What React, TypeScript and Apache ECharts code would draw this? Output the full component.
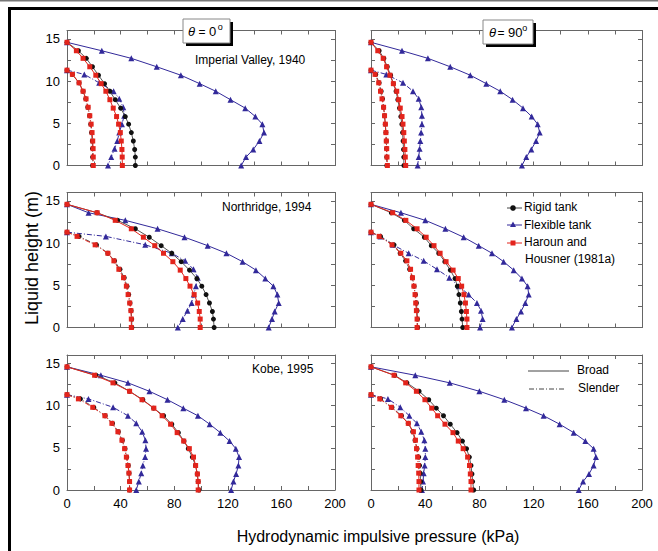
import React, { useEffect, useRef } from "react";
import * as echarts from "echarts";

// Heights (m) at which the curves are sampled
const H_BROAD = [14.6, 13.6, 12.7, 11.7, 10.7, 9.7, 8.8, 7.8, 6.8, 5.8, 4.9, 3.9, 2.9, 1.9, 1.0, 0];
const H_SLENDER = [11.3, 10.8, 9.8, 8.8, 7.9, 6.9, 5.9, 4.9, 3.9, 2.9, 2.0, 1.0, 0];

// Imperial Valley, 1940 — theta = 0
const IV0_FLEX_B = [0, 26, 48, 67, 85, 99, 111, 122, 133, 140.6, 145.8, 147, 143.6, 139, 133.6, 130];
const IV0_RIGID_B = [0, 8.5, 14.4, 19, 23.5, 28, 32, 36, 40, 43.5, 46, 48, 49.5, 50.5, 51, 51];
const IV0_HH_B = [0, 7, 12, 17, 21.5, 25.5, 29, 32, 34.5, 37, 38.5, 39.8, 40.5, 41, 41.2, 41.3];
const IV0_FLEX_S = [0, 12.9, 24, 34.8, 39, 42, 42.7, 41, 39, 37.5, 35.5, 33, 30.6];
const IV0_RIGID_S = [0, 4, 9, 12, 14, 15.5, 16.9, 17.7, 18.3, 18.9, 19, 19.1, 19.1];
const IV0_HH_S = [0, 4, 9, 12, 14.2, 15.8, 17, 18, 18.7, 19.2, 19.5, 19.6, 19.6];

// Imperial Valley, 1940 — theta = 90
const IV90_FLEX_B = [0, 22.9, 42, 58.5, 73.3, 85.1, 95.4, 104.5, 112.2, 118.6, 123, 124.5, 121.8, 118.3, 114.6, 111.4];
const IV90_RIGID_B = [0, 6, 9.5, 12, 14.5, 16.5, 18.5, 19.8, 21, 22, 22.8, 23.3, 23.7, 24, 24.2, 24.3];
const IV90_HH_B = [0, 5, 9, 11.5, 14, 16.5, 19, 20.4, 21.6, 22.9, 23.6, 24.2, 24.6, 25, 25.3, 25.6];
const IV90_FLEX_S = [0, 11.3, 23.6, 31, 35.2, 37.1, 37.6, 37.6, 37, 36.4, 35.9, 35.2, 34.4];
const IV90_RIGID_S = [0, 3.5, 6, 7.5, 8.5, 9.3, 10, 10.5, 11, 11.3, 11.5, 11.6, 11.7];
const IV90_HH_S = [0, 3, 5.7, 7, 8.1, 9.3, 10, 10.6, 11, 11.3, 11.6, 11.8, 12.1];

// Northridge, 1994 — theta = 0
const NR0_FLEX_B = [0, 16.1, 43.5, 67.6, 87.7, 105, 119, 131, 141, 148, 154, 157, 158, 155, 153, 150.5];
const NR0_RIGID_B = [0, 22.4, 37.8, 51, 61.4, 70.3, 78.2, 85.2, 91.4, 96.9, 100.6, 103.8, 106.3, 108.5, 109.3, 109.8];
const NR0_HH_B = [0, 22.5, 36, 48, 57, 65.5, 72, 79, 84.5, 88.7, 91.8, 94.9, 97.5, 98.7, 99.4, 99.4];
const NR0_FLEX_S = [0, 29, 58.4, 78.2, 88.2, 94.4, 97.6, 96.2, 94.6, 93, 89.9, 86.4, 82.7];
const NR0_RIGID_S = [0, 9, 22, 30.5, 35.5, 39.5, 42.7, 44.8, 46, 47, 47.8, 48.3, 48.4];
const NR0_HH_S = [0, 7.5, 21, 30.5, 35, 38.7, 42.2, 44.3, 45.6, 46.8, 47.7, 48, 48];

// Northridge, 1994 — theta = 90
const NR90_FLEX_B = [0, 22.1, 40.1, 54.9, 68.4, 79.5, 89.3, 97.9, 105.3, 111.4, 115.6, 116.4, 113.9, 110.7, 107.3, 104];
const NR90_RIGID_B = [0, 15, 24.6, 31.5, 39.4, 44.5, 50, 54.5, 58.5, 62, 63.7, 64.9, 65.9, 66.7, 67.2, 67.7];
const NR90_HH_B = [0, 16, 25.7, 34, 40.7, 46.5, 51, 55.4, 60.6, 64.4, 66.9, 68.6, 69.7, 70.4, 70.8, 70.8];
const NR90_FLEX_S = [0, 7, 16.2, 27.8, 38.9, 48.7, 57.8, 64.7, 72.1, 78.2, 81.2, 82.4, 80.5];
const NR90_RIGID_S = [0, 7, 17, 21.5, 25.5, 28.5, 30.5, 31.8, 32.8, 33.5, 34, 34.3, 34.4];
const NR90_HH_S = [0, 6, 15.5, 22, 26.5, 29.2, 30.6, 31.7, 32.5, 33, 33.5, 34, 34];

// Kobe, 1995 — theta = 0
const KB0_FLEX_B = [0, 25.3, 45.5, 61.5, 75, 86.8, 97.7, 106.5, 114.4, 121.3, 126, 128.4, 127.9, 126.2, 124.2, 122.5];
const KB0_RIGID_B = [0, 21.6, 35.7, 46.7, 56.6, 64.7, 72.1, 78.2, 83.1, 87.3, 90.5, 93.5, 95.9, 97.2, 97.9, 98.4];
const KB0_HH_B = [0, 20.6, 34.3, 46.7, 56, 64.8, 71, 77.3, 82.2, 87.1, 91.3, 94.4, 96, 97.3, 97.9, 97.9];
const KB0_FLEX_S = [0, 16, 34.4, 45.5, 51.7, 56.1, 58.5, 59, 58.3, 56.6, 55.4, 53.6, 51.7];
const KB0_RIGID_S = [0, 10, 20, 28.5, 34, 38.3, 41.3, 43.3, 44.6, 45.7, 46.3, 46.7, 46.7];
const KB0_HH_S = [0, 8.5, 19.2, 28.3, 33.5, 38, 41, 43, 44.3, 45.5, 46.2, 46.7, 46.7];

// Kobe, 1995 — theta = 90
const KB90_FLEX_B = [0, 32.7, 58.1, 80, 98.4, 114.4, 127.4, 139.2, 149.6, 158.2, 164.3, 166, 164.3, 160.9, 156.5, 153.3];
const KB90_RIGID_B = [0, 17.5, 26.5, 35.5, 42.6, 48.2, 53.5, 58.5, 63.5, 67.5, 70.5, 72.6, 73.8, 74.5, 75, 75.8];
const KB90_HH_B = [0, 17, 25.6, 33.5, 39.8, 44.8, 49.2, 54.6, 60.5, 64.4, 68, 71.3, 72.7, 73.3, 73.8, 73.8];
const KB90_FLEX_S = [0, 12.5, 21.6, 28.3, 33.9, 37.1, 39.4, 40.1, 40.1, 39.6, 38.9, 38.4, 37.6];
const KB90_RIGID_S = [0, 7, 15.5, 22.5, 27.5, 30.8, 32.5, 34, 35.2, 35.8, 36.3, 36.6, 36.9];
const KB90_HH_S = [0, 6.5, 15, 22, 27.5, 31.3, 32.8, 33.6, 34.4, 34.8, 35.2, 35.4, 35.4];

const X_TICK_LABELS = [0, 40, 80, 120, 160, 200];
const Y_TICK_LABELS = [0, 5, 10, 15];
const EVENTS = ["Imperial Valley, 1940", "Northridge, 1994", "Kobe, 1995"];
const ANGLES = ["0", "90"];
const X_TITLE = "Hydrodynamic impulsive pressure (kPa)";
const Y_TITLE = "Liquid height (m)";
const LEGEND_TANKS = ["Rigid tank", "Flexible tank", "Haroun and", "Housner (1981a)"];
const LEGEND_SHAPES = ["Broad", "Slender"];

const PANELS = [
  { flexB: IV0_FLEX_B, rigidB: IV0_RIGID_B, hhB: IV0_HH_B, flexS: IV0_FLEX_S, rigidS: IV0_RIGID_S, hhS: IV0_HH_S },
  { flexB: IV90_FLEX_B, rigidB: IV90_RIGID_B, hhB: IV90_HH_B, flexS: IV90_FLEX_S, rigidS: IV90_RIGID_S, hhS: IV90_HH_S },
  { flexB: NR0_FLEX_B, rigidB: NR0_RIGID_B, hhB: NR0_HH_B, flexS: NR0_FLEX_S, rigidS: NR0_RIGID_S, hhS: NR0_HH_S },
  { flexB: NR90_FLEX_B, rigidB: NR90_RIGID_B, hhB: NR90_HH_B, flexS: NR90_FLEX_S, rigidS: NR90_RIGID_S, hhS: NR90_HH_S },
  { flexB: KB0_FLEX_B, rigidB: KB0_RIGID_B, hhB: KB0_HH_B, flexS: KB0_FLEX_S, rigidS: KB0_RIGID_S, hhS: KB0_HH_S },
  { flexB: KB90_FLEX_B, rigidB: KB90_RIGID_B, hhB: KB90_HH_B, flexS: KB90_FLEX_S, rigidS: KB90_RIGID_S, hhS: KB90_HH_S },
];

const FONT = '"Liberation Sans", Arial, Helvetica, sans-serif';
const AX = "#666666";
const BLUE = "#32299a";
const RED = "#e3241c";
const BLACK = "#111111";
const DASHDOT = [5, 2, 1, 2];

const COL_LEFT = [67, 371];
const COL_WIDTH = [268, 271];
const ROW_TOP = [30.5, 192.5, 355];
const ROW_HEIGHT = 135;

function pairs(xs: number[], hs: number[]) {
  return xs.map((v, i) => [v, hs[i]]);
}

export default function App() {
  const ref = useRef<HTMLDivElement>(null);

  useEffect(() => {
    if (!ref.current) return;
    const chart = echarts.init(ref.current, null, { renderer: "svg" });

    const grids: any[] = [];
    const xAxes: any[] = [];
    const yAxes: any[] = [];
    const series: any[] = [];

    const tickCommon = {
      axisLine: { show: true, onZero: false, lineStyle: { color: AX, width: 1 } },
      axisTick: { show: true, inside: true, length: 4, lineStyle: { color: AX, width: 1 } },
      splitLine: { show: false },
      minorTick: { show: false },
    };

    for (let p = 0; p < 6; p++) {
      const row = Math.floor(p / 2);
      const col = p % 2;
      grids.push({
        left: COL_LEFT[col],
        top: ROW_TOP[row],
        width: COL_WIDTH[col],
        height: ROW_HEIGHT,
        containLabel: false,
      });
    }
    // main axes 0..5
    for (let p = 0; p < 6; p++) {
      const row = Math.floor(p / 2);
      const col = p % 2;
      xAxes.push({
        type: "value",
        gridIndex: p,
        position: "bottom",
        min: 0,
        max: 200,
        interval: 20,
        ...tickCommon,
        axisLabel: {
          show: row === 2,
          fontSize: 13,
          fontFamily: FONT,
          color: "#000",
          margin: 7,
          formatter: (v: number) => (X_TICK_LABELS.includes(v) ? String(v) : ""),
        },
      });
      yAxes.push({
        type: "value",
        gridIndex: p,
        position: "left",
        min: 0,
        max: 16,
        interval: 2.5,
        ...tickCommon,
        axisLabel: {
          show: col === 0,
          fontSize: 13,
          fontFamily: FONT,
          color: "#000",
          margin: 7,
          formatter: (v: number) => (Y_TICK_LABELS.includes(v) ? String(v) : ""),
        },
      });
    }
    // mirror axes 6..11
    for (let p = 0; p < 6; p++) {
      xAxes.push({
        type: "value",
        gridIndex: p,
        position: "top",
        min: 0,
        max: 200,
        interval: 20,
        ...tickCommon,
        axisLabel: { show: false },
      });
      yAxes.push({
        type: "value",
        gridIndex: p,
        position: "right",
        min: 0,
        max: 16,
        interval: 2.5,
        ...tickCommon,
        axisLabel: { show: false },
      });
    }

    const mk = (
      p: number,
      name: string,
      xs: number[],
      hs: number[],
      color: string,
      lineColor: string,
      symbol: string,
      size: number,
      dash: boolean,
      z: number
    ) => ({
      type: "line",
      name,
      xAxisIndex: p,
      yAxisIndex: p,
      data: pairs(xs, hs),
      symbol,
      symbolSize: size,
      showSymbol: true,
      z,
      itemStyle: { color, borderWidth: 0 },
      lineStyle: { color: lineColor, width: 1, type: dash ? DASHDOT : "solid" },
      emphasis: { disabled: true },
    });

    PANELS.forEach((d, p) => {
      series.push(mk(p, "Flexible tank", d.flexB, H_BROAD, BLUE, BLUE, "triangle", 6, false, 2));
      series.push(mk(p, "Flexible tank", d.flexS, H_SLENDER, BLUE, BLUE, "triangle", 6, true, 2));
      series.push(mk(p, "Rigid tank", d.rigidB, H_BROAD, BLACK, "#555", "circle", 5, false, 3));
      series.push(mk(p, "Rigid tank", d.rigidS, H_SLENDER, BLACK, "#555", "circle", 5, true, 3));
      series.push(mk(p, "Haroun and Housner (1981a)", d.hhB, H_BROAD, RED, RED, "rect", 5, false, 4));
      series.push(mk(p, "Haroun and Housner (1981a)", d.hhS, H_SLENDER, RED, RED, "rect", 5, true, 4));
    });

    const txt = (x: number, y: number, text: string, size: number, extra: any = {}) => ({
      type: "text",
      x,
      y,
      silent: true,
      z: 100,
      style: {
        text,
        fill: "#000",
        font: `${extra.italic ? "italic " : ""}${size}px ${FONT}`,
        align: extra.align || "left",
        verticalAlign: "middle",
        textAlign: extra.align || "left",
        textVerticalAlign: "middle",
      },
      ...(extra.rotation !== undefined ? { rotation: extra.rotation } : {}),
    });

    const thetaBox = (x0: number, y0: number, w: number, deg: string, tx: number, ex: number, nx: number, sx: number) => [
      { type: "rect", z: 98, silent: true, shape: { x: x0 + 3, y: y0 + 3, width: w, height: 24 }, style: { fill: "#000" } },
      { type: "rect", z: 99, silent: true, shape: { x: x0, y: y0, width: w, height: 24 }, style: { fill: "#fff", stroke: "#888", lineWidth: 1 } },
      txt(tx, y0 + 12.5, "\u03B8", 13, { italic: true }),
      txt(ex, y0 + 12.5, "=", 12),
      txt(nx, y0 + 12.5, deg, 13),
      txt(sx, y0 + 8, "o", 9),
    ];

    const graphic: any[] = [
      // frame
      { type: "rect", silent: true, shape: { x: 0, y: 0, width: 658, height: 1.5 }, style: { fill: "#777" } },
      { type: "rect", silent: true, shape: { x: 8, y: 7, width: 650, height: 3 }, style: { fill: "#000" } },
      { type: "rect", silent: true, shape: { x: 8, y: 7, width: 3, height: 544 }, style: { fill: "#000" } },
      ...thetaBox(183, 19, 47, ANGLES[0], 188, 198.5, 209, 217.8),
      ...thetaBox(483, 20, 50, ANGLES[1], 489, 497.5, 508, 522.3),
      txt(195, 60, EVENTS[0], 12),
      txt(222, 207, EVENTS[1], 12),
      txt(252, 369, EVENTS[2], 12),
      txt(378, 536, X_TITLE, 16, { align: "center" }),
      txt(32, 258, Y_TITLE, 18, { align: "center", rotation: Math.PI / 2 }),
      // tank legend
      { type: "line", silent: true, shape: { x1: 507, y1: 208, x2: 522, y2: 208 }, style: { stroke: "#444", lineWidth: 1 } },
      { type: "circle", silent: true, shape: { cx: 513, cy: 208, r: 2.8 }, style: { fill: BLACK } },
      txt(524, 207, LEGEND_TANKS[0], 12),
      { type: "line", silent: true, shape: { x1: 507, y1: 225, x2: 522, y2: 225 }, style: { stroke: BLUE, lineWidth: 1 } },
      { type: "polygon", silent: true, shape: { points: [[513, 221.5], [510, 227], [516, 227]] }, style: { fill: BLUE } },
      txt(524, 224.5, LEGEND_TANKS[1], 12),
      { type: "line", silent: true, shape: { x1: 507, y1: 243, x2: 522, y2: 243 }, style: { stroke: RED, lineWidth: 1 } },
      { type: "rect", silent: true, shape: { x: 510.5, y: 240.5, width: 5, height: 5 }, style: { fill: RED } },
      txt(524, 242, LEGEND_TANKS[2], 12),
      txt(525, 259, LEGEND_TANKS[3], 12),
      // shape legend
      { type: "line", silent: true, shape: { x1: 528, y1: 371, x2: 569, y2: 371 }, style: { stroke: "#444", lineWidth: 1 } },
      txt(577, 370, LEGEND_SHAPES[0], 12),
      { type: "line", silent: true, shape: { x1: 529, y1: 389, x2: 564, y2: 389 }, style: { stroke: "#444", lineWidth: 1, lineDash: [5, 2, 1, 2] } },
      txt(578, 388, LEGEND_SHAPES[1], 12),
    ];

    chart.setOption({
      animation: false,
      backgroundColor: "#fff",
      textStyle: { fontFamily: FONT },
      grid: grids,
      xAxis: xAxes,
      yAxis: yAxes,
      series,
      graphic: { elements: graphic },
    });

    return () => chart.dispose();
  }, []);

  return (
    <div
      ref={ref}
      style={{ position: "absolute", left: 0, top: 0, width: 658, height: 551 }}
    />
  );
}
